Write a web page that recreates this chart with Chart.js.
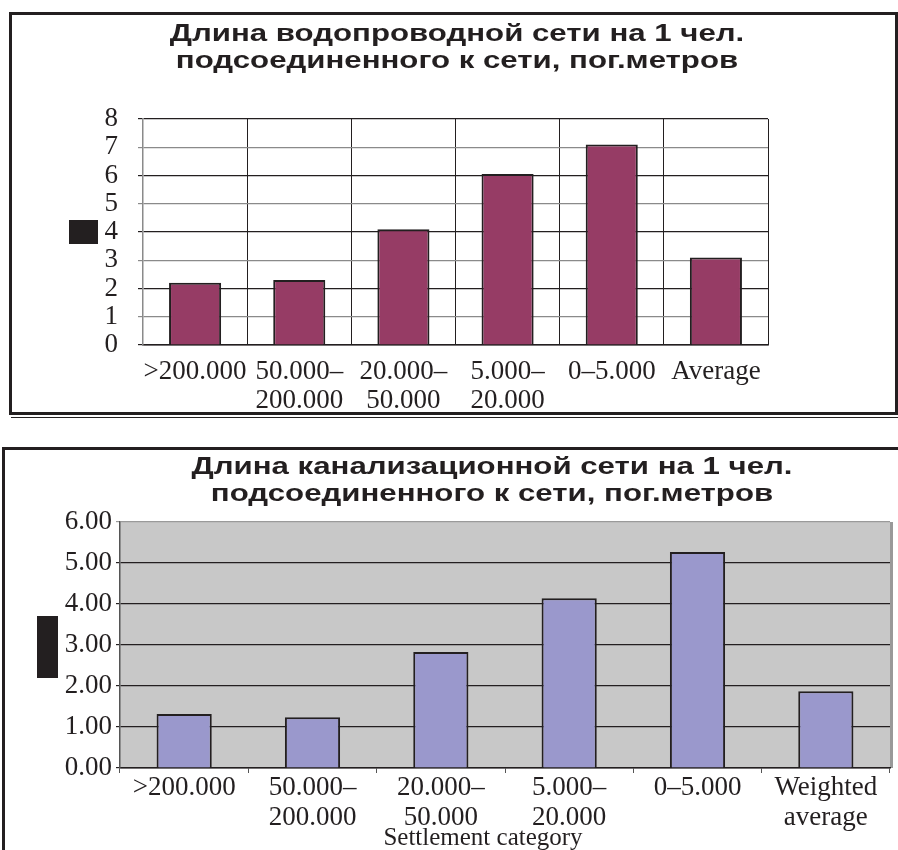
<!DOCTYPE html>
<html>
<head>
<meta charset="utf-8">
<script src="https://cdn.jsdelivr.net/npm/chart.js@4.4.0/dist/chart.umd.min.js"></script>
<style>
  html, body { margin: 0; padding: 0; background: #fff; overflow: hidden; }
  body { width: 898px; height: 850px; position: relative; }
  canvas { position: absolute; left: 0; }
  #water { top: 0; }
  #sewer { top: 420px; }
  .frame { position: absolute; border: 3px solid #231f20; box-sizing: border-box; pointer-events: none; }
  .blk { position: absolute; background: #231f20; }
</style>
</head>
<body>
<canvas id="water" width="898" height="420"></canvas>
<canvas id="sewer" width="898" height="430"></canvas>
<div class="frame" style="left:9px;top:12px;width:889px;height:403px"></div>
<div style="position:absolute;left:11px;top:417px;width:887px;height:1px;background:#231f20"></div>
<div class="frame" style="left:2px;top:447px;width:900px;height:420px"></div>
<div class="blk" style="left:69px;top:220px;width:29px;height:24px"></div>
<div class="blk" style="left:37px;top:616px;width:21px;height:62px"></div>
<script>
// --- data ---
const waterTitle = ['Длина водопроводной сети на 1 чел.', 'подсоединенного к сети, пог.метров'];
const waterCategories = [['>200.000'], ['50.000–', '200.000'], ['20.000–', '50.000'], ['5.000–', '20.000'], ['0–5.000'], ['Average']];
const waterValues = [2.2, 2.3, 4.1, 6.05, 7.1, 3.1];
const waterMax = 8;

const sewerTitle = ['Длина канализационной сети на 1 чел.', 'подсоединенного к сети, пог.метров'];
const sewerCategories = [['>200.000'], ['50.000–', '200.000'], ['20.000–', '50.000'], ['5.000–', '20.000'], ['0–5.000'], ['Weighted', 'average']];
const sewerValues = [1.32, 1.24, 2.83, 4.14, 5.27, 1.87];
const sewerMax = 6;
const sewerAxisTitle = 'Settlement category';

const ink = '#231f20';
const serif = '"Liberation Serif", "Times New Roman", serif';
const sansBold = 'bold 24px "Liberation Sans", Arial, sans-serif';

// draws the (horizontally stretched) headings and loose captions
const captions = {
  id: 'captions',
  afterDraw(chart, args, opts) {
    const ctx = chart.ctx;
    (opts.items || []).forEach(it => {
      ctx.save();
      ctx.font = it.font;
      ctx.fillStyle = ink;
      ctx.textAlign = 'center';
      ctx.textBaseline = 'middle';
      ctx.translate(it.x, it.y);
      ctx.scale(it.stretch || 1, 1);
      ctx.fillText(it.text, 0, 0);
      ctx.restore();
    });
  }
};

// grey plot background for the second chart
const plotBg = {
  id: 'plotBg',
  beforeDraw(chart, args, opts) {
    if (!opts.color) return;
    const {ctx, chartArea: a} = chart;
    ctx.save();
    ctx.fillStyle = opts.color;
    ctx.fillRect(a.left, a.top, a.right - a.left, a.bottom - a.top);
    ctx.strokeStyle = opts.edge;
    ctx.lineWidth = 3;
    ctx.beginPath();
    ctx.moveTo(a.right + 1.5, a.top);
    ctx.lineTo(a.right + 1.5, a.bottom);
    ctx.stroke();
    ctx.restore();
  }
};

Chart.defaults.animation = false;
Chart.defaults.color = ink;

new Chart(document.getElementById('water'), {
  type: 'bar',
  data: {
    labels: waterCategories,
    datasets: [{
      data: waterValues,
      backgroundColor: '#963c65',
      borderColor: ink,
      borderWidth: 2,
      barPercentage: 0.5,
      categoryPercentage: 1
    }]
  },
  plugins: [captions],
  options: {
    responsive: false,
    layout: { padding: { top: 119, right: 130, bottom: 0, left: 0 } },
    plugins: {
      legend: { display: false },
      tooltip: { enabled: false },
      captions: {
        items: [
          { text: waterTitle[0], x: 457, y: 34, font: sansBold, stretch: 1.3 },
          { text: waterTitle[1], x: 457, y: 61, font: sansBold, stretch: 1.3 }
        ]
      }
    },
    scales: {
      x: {
        grid: { offset: true, drawTicks: false, color: ink, lineWidth: 1 },
        border: { color: ink, width: 1.5 },
        ticks: { font: { family: serif, size: 27, lineHeight: 1.05 }, color: ink, padding: 13, maxRotation: 0, autoSkip: false },
        afterFit: s => { s.height = 75; }
      },
      y: {
        min: 0,
        max: waterMax,
        ticks: { stepSize: 1, autoSkip: false, padding: 20, font: { family: serif, size: 27 }, color: ink },
        grid: { color: c => (c.tick && c.tick.value % 2) ? '#8a8a8a' : ink, tickLength: 5, lineWidth: 1.2 },
        border: { color: '#8a8a8a', width: 1.5 },
        afterFit: s => { s.width = 143; }
      }
    }
  }
});

new Chart(document.getElementById('sewer'), {
  type: 'bar',
  data: {
    labels: sewerCategories,
    datasets: [{
      data: sewerValues,
      backgroundColor: '#9a98cc',
      borderColor: ink,
      borderWidth: 2,
      barPercentage: 0.43,
      categoryPercentage: 1
    }]
  },
  plugins: [plotBg, captions],
  options: {
    responsive: false,
    layout: { padding: { top: 102, right: 8, bottom: 0, left: 0 } },
    plugins: {
      legend: { display: false },
      tooltip: { enabled: false },
      plotBg: { color: '#c8c8c8', edge: '#999999' },
      captions: {
        items: [
          { text: sewerTitle[0], x: 492, y: 47, font: sansBold, stretch: 1.3 },
          { text: sewerTitle[1], x: 492, y: 74, font: sansBold, stretch: 1.3 },
          { text: sewerAxisTitle, x: 483, y: 418, font: '25px ' + serif }
        ]
      }
    },
    scales: {
      x: {
        grid: { offset: true, drawOnChartArea: false, drawTicks: true, tickLength: 5, color: '#555' },
        border: { color: ink, width: 1.5 },
        ticks: { font: { family: serif, size: 27, lineHeight: 1.1 }, color: ink, padding: 0, maxRotation: 0, autoSkip: false },
        afterFit: s => { s.height = 82; }
      },
      y: {
        min: 0,
        max: sewerMax,
        ticks: { stepSize: 1, autoSkip: false, padding: 4, font: { family: serif, size: 27 }, color: ink, callback: v => v.toFixed(2) },
        grid: { color: c => (c.tick && c.tick.value === sewerMax) ? '#9a9a9a' : ink, tickLength: 4, lineWidth: 1.2 },
        border: { color: '#555', width: 1.5 },
        afterFit: s => { s.width = 120; }
      }
    }
  }
});
</script>
</body>
</html>
